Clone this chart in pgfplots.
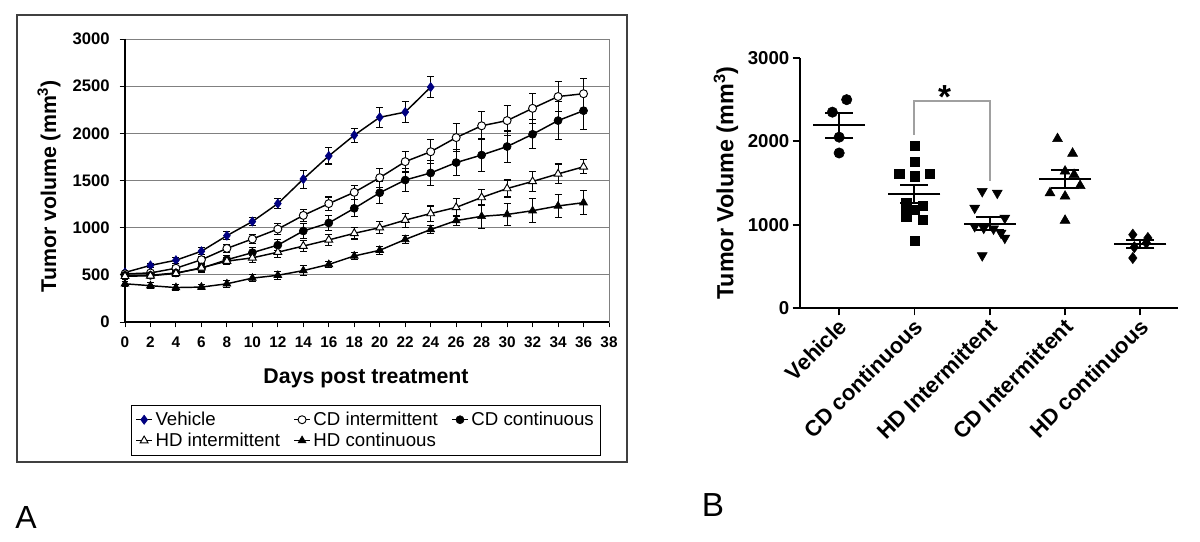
\documentclass[border=0pt]{standalone}
\usepackage{fontspec}
\setmainfont{Liberation Sans}
\usepackage{pgfplots}
\pgfplotsset{compat=1.18}
\usepackage{pgfplotstable}
\definecolor{navyv}{HTML}{000080}
\definecolor{gridgray}{HTML}{808080}
\definecolor{brk}{HTML}{A0A0A0}

% ---------- Panel A data: day, mean volume, error ----------
\pgfplotstableread{
day vol err
0 525 20
2 600 25
4 655 30
6 750 35
8 915 40
10 1065 45
12 1255 55
14 1515 95
16 1760 85
18 1980 75
20 2170 105
22 2225 115
24 2490 115
}\vehicle
\pgfplotstableread{
day vol err
0 510 25
2 520 25
4 570 30
6 660 35
8 780 40
10 880 50
12 985 55
14 1130 65
16 1255 70
18 1375 75
20 1530 100
22 1700 110
24 1805 125
26 1955 150
28 2080 150
30 2135 160
32 2265 160
34 2390 160
36 2420 165
}\cdint
\pgfplotstableread{
day vol err
0 495 30
2 495 30
4 520 35
6 570 40
8 660 45
10 735 55
12 815 60
14 965 75
16 1050 80
18 1205 90
20 1370 115
22 1505 120
24 1580 130
26 1690 140
28 1770 170
30 1860 165
32 1990 155
34 2135 200
36 2240 200
}\cdcont
\pgfplotstableread{
day vol err
0 485 30
2 490 30
4 515 30
6 575 35
8 645 40
10 680 45
12 740 55
14 805 60
16 870 55
18 940 60
20 1000 65
22 1080 75
24 1150 80
26 1215 95
28 1320 85
30 1415 90
32 1490 105
34 1570 105
36 1645 75
}\hdint
\pgfplotstableread{
day vol err
0 405 25
2 385 30
4 365 30
6 370 30
8 405 35
10 465 40
12 495 45
14 545 55
16 610 35
18 700 40
20 760 45
22 875 40
24 980 45
26 1075 55
28 1120 125
30 1140 120
32 1180 130
34 1230 125
36 1265 130
}\hdcont

% ---------- Panel B data ----------
\pgfplotstableread{
x y
0.10 2500
-0.09 2350
0.00 2050
0.00 1860
}\bveh
\pgfplotstableread{
x y
1.00 1945
1.00 1755
0.80 1610
1.00 1580
1.20 1610
0.89 1260
1.11 1230
1.00 1180
0.89 1140
0.89 1100
1.11 1060
1.00 810
}\bcdc
\pgfplotstableread{
x y
1.90 1400
2.10 1380
1.80 1200
2.20 1080
1.80 980
1.92 960
2.05 950
2.15 900
2.20 840
1.90 630
}\bhdi
\pgfplotstableread{
x y
2.90 2030
3.10 1855
3.00 1640
3.12 1600
3.20 1468
2.80 1380
3.00 1340
3.00 1050
}\bcdi
\pgfplotstableread{
x y
3.90 880
4.10 840
4.08 780
3.92 730
3.90 600
}\bhdc
\pgfplotstableread{
x mean sem
0 2190 145
1 1370 105
2 1010 80
3 1550 105
4 766 50
}\bsum

\begin{document}
\begin{tikzpicture}
\useasboundingbox (0pt,0pt) rectangle (900pt,406.5pt);

% frame of panel A
\draw[line width=1pt, black!75] (12.75pt,60pt) rectangle (470.25pt,395.25pt);

\begin{axis}[
  at={(93.75pt,165pt)}, anchor=south west,
  width=363pt, height=212.25pt, scale only axis,
  xmin=0, xmax=38, ymin=0, ymax=3000,
  xtick={0,2,...,38}, ytick={0,500,...,3000},
  ymajorgrids, grid style={gridgray, line width=0.7pt},
  axis line style={gridgray, line width=0.7pt},
  tick style={black, line width=0.7pt},
  tick align=outside, xtick pos=bottom, ytick pos=left,
  major tick length=4pt,
  /pgf/number format/assume math mode=true,
  /pgf/number format/1000 sep={},
  scaled ticks=false,
  xticklabel style={font=\fontsize{11.5}{13}\selectfont\bfseries, yshift=-3.5pt},
  yticklabel style={font=\fontsize{12.5}{14}\selectfont\bfseries, xshift=-4pt},
  xlabel={Days post treatment},
  ylabel={Tumor volume (mm\textsuperscript{3})},
  label style={font=\fontsize{16}{19}\selectfont\bfseries},
  xlabel style={at={(axis description cs:0.498,-0.198)}, anchor=center},
  ylabel style={at={(axis description cs:-0.157,0.48)}, anchor=center},
  clip=false,
  legend columns=3,
  legend style={at={(0.0124,-0.293)}, anchor=north west, draw=black, line width=0.6pt,
    font=\fontsize{14}{16}\selectfont,
    /tikz/every even column/.append style={column sep=8pt}, inner sep=3pt},
  legend cell align=left,
  legend image code/.code={\draw[mark repeat=2,mark phase=2] plot coordinates {(0pt,0pt) (6pt,0pt) (12pt,0pt)};},
  error bars/y dir=both, error bars/y explicit,
  error bars/error mark options={rotate=90, mark size=2.6pt, line width=0.8pt, black},
  error bars/error bar style={line width=0.8pt, black},
]
\draw[black, line width=0.9pt] (rel axis cs:0,1) -- (rel axis cs:0,0) -- (rel axis cs:1,0);

\addplot[black, line width=1.1pt, mark=diamond*, mark size=3.4pt,
  mark options={fill=navyv, draw=navyv, line width=0.5pt}]
  table[x=day, y=vol, y error=err] {\vehicle};
\addlegendentry{Vehicle}
\addplot[black, line width=1.1pt, mark=*, mark size=3pt,
  mark options={fill=white, draw=black, line width=0.7pt}]
  table[x=day, y=vol, y error=err] {\cdint};
\addlegendentry{CD intermittent}
\addplot[black, line width=1.1pt, mark=*, mark size=3pt,
  mark options={fill=black, draw=black, line width=0.5pt}]
  table[x=day, y=vol, y error=err] {\cdcont};
\addlegendentry{CD continuous}
\addplot[black, line width=1.1pt, mark=triangle*, mark size=3.4pt,
  mark options={fill=white, draw=black, line width=0.7pt}]
  table[x=day, y=vol, y error=err] {\hdint};
\addlegendentry{HD intermittent}
\addplot[black, line width=1.1pt, mark=triangle*, mark size=3.4pt,
  mark options={fill=black, draw=black, line width=0.5pt}]
  table[x=day, y=vol, y error=err] {\hdcont};
\addlegendentry{HD continuous}
\end{axis}

\begin{axis}[
  at={(600pt,175.5pt)}, anchor=south west,
  width=283.5pt, height=187.5pt, scale only axis,
  xmin=-0.52, xmax=4.5, ymin=0, ymax=3000,
  axis x line*=bottom, axis y line*=left,
  axis line style={line width=1.4pt, -},
  xtick={0,...,4},
  xticklabels={Vehicle, CD continuous, HD Intermittent, CD Intermittent, HD continuous},
  ytick={0,1000,2000,3000},
  tick align=outside, major tick length=5.5pt,
  tick style={line width=1.4pt, black},
  /pgf/number format/assume math mode=true,
  /pgf/number format/1000 sep={},
  scaled ticks=false,
  yticklabel style={font=\fontsize{14}{16}\selectfont\bfseries, xshift=1pt},
  xticklabel style={font=\fontsize{16.5}{19}\selectfont\bfseries, rotate=45, anchor=east, yshift=-6pt, xshift=1.5pt},
  ylabel={Tumor Volume (mm\textsuperscript{3})},
  ylabel style={font=\fontsize{17.5}{21}\selectfont\bfseries, at={(axis description cs:-0.196,0.5)}, anchor=center},
  clip=false,
]
\addplot[only marks, mark=*, mark size=3.9pt, mark options={fill=black, draw=black}] table[x=x,y=y] {\bveh};
\addplot[only marks, mark=square*, mark size=3.5pt, mark options={fill=black, draw=black}] table[x=x,y=y] {\bcdc};
\addplot[only marks, mark=triangle*, mark size=4.3pt, mark options={fill=black, draw=black, rotate=180}] table[x=x,y=y] {\bhdi};
\addplot[only marks, mark=triangle*, mark size=4.3pt, mark options={fill=black, draw=black}] table[x=x,y=y] {\bcdi};
\addplot[only marks, mark=diamond*, mark size=4.2pt, mark options={fill=black, draw=black}] table[x=x,y=y] {\bhdc};
\addplot[only marks, black, mark=-, mark size=19.5pt, mark options={line width=1.5pt},
  error bars/.cd, y dir=both, y explicit,
  error bar style={line width=1.5pt, black},
  error mark options={rotate=90, mark size=10.5pt, line width=1.5pt, black}]
  table[x=x, y=mean, y error=sem] {\bsum};
\addplot[brk, line width=1.5pt] coordinates {(1,2080) (1,2480) (2,2480) (2,1520)};
\node[font=\fontsize{25}{30}\selectfont\bfseries, anchor=base] at (axis cs:1.4,2388) {*};
\end{axis}

\node[font=\fontsize{24}{28}\selectfont] at (19.5pt,18.75pt) {A};
\node[font=\fontsize{25}{29}\selectfont] at (534.75pt,27.75pt) {B};
\end{tikzpicture}
\end{document}
